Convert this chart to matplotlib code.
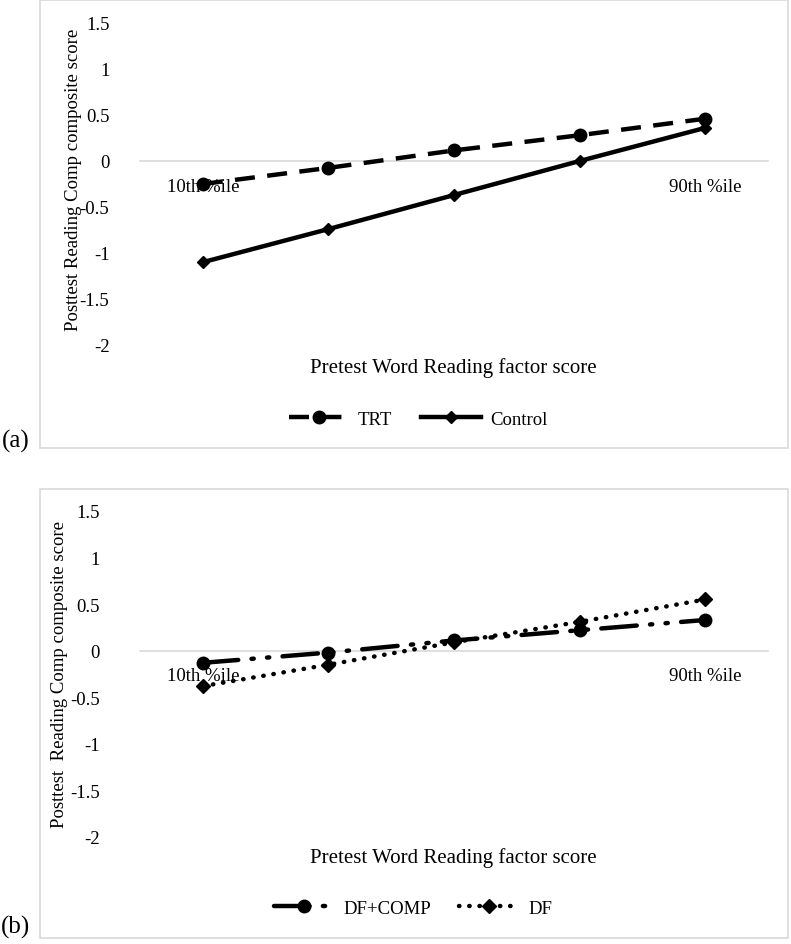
import matplotlib
matplotlib.use("Agg")
import matplotlib.pyplot as plt
from matplotlib.patches import Rectangle

plt.rcParams['font.family'] = ['Liberation Serif', 'DejaVu Serif']

categories = ['10th %ile', '', '', '', '90th %ile']
trt = [-0.25, -0.075, 0.115, 0.28, 0.46]
control = [-1.10, -0.74, -0.37, 0.0, 0.36]
df_comp = [-0.13, -0.02, 0.11, 0.22, 0.33]
df_only = [-0.38, -0.15, 0.09, 0.31, 0.55]
yticks = [1.5, 1, 0.5, 0, -0.5, -1, -1.5, -2]
ytick_labels = ['1.5', '1', '0.5', '0', '-0.5', '-1', '-1.5', '-2']

W, H = 791, 945
fig = plt.figure(figsize=(W / 100, H / 100), dpi=100)

def px_axes(left, top, right, bottom):
    return fig.add_axes([left / W, 1 - bottom / H, (right - left) / W, (bottom - top) / H])

def box(left, top, right, bottom):
    fig.patches.append(Rectangle((left / W, 1 - bottom / H), (right - left) / W, (bottom - top) / H,
                                 transform=fig.transFigure, fill=False, edgecolor='#d9d9d9', lw=1.2))

def style_axes(ax, ypad):
    x = range(len(categories))
    ax.set_xlim(-0.5, len(categories) - 0.5)
    ax.set_ylim(-2, 1.5)
    for s in ['top', 'right', 'left']:
        ax.spines[s].set_visible(False)
    ax.spines['bottom'].set_position(('data', 0))
    ax.spines['bottom'].set_color('#d9d9d9')
    ax.spines['bottom'].set_linewidth(1.2)
    ax.spines['bottom'].set_zorder(0)
    ax.set_xticks(list(x))
    ax.set_xticklabels(categories, fontsize=13.5)
    ax.set_yticks(yticks)
    ax.set_yticklabels(ytick_labels, fontsize=13.5)
    ax.tick_params(axis='x', length=0, pad=12)
    ax.tick_params(axis='y', length=0, pad=ypad)
    ax.patch.set_alpha(0)

# ---- panel (a)
box(40, 1, 788, 449)
ax1 = px_axes(140, 24, 768, 346)
style_axes(ax1, 22)
x = list(range(len(categories)))
l1, = ax1.plot(x, trt, color='black', lw=3.2, linestyle=(0, (4.5, 2.8)), marker='o', markersize=9,
               label='TRT', zorder=3)
l2, = ax1.plot(x, control, color='black', lw=3.2, linestyle='-', marker='D', markersize=6.5,
               label='Control', zorder=3)
fig.text(74 / W, 1 - 180 / H, 'Posttest Reading Comp composite score', rotation=90,
         ha='center', va='center', fontsize=13.5)
fig.text(453 / W, 1 - 368 / H, 'Pretest Word Reading factor score', ha='center', va='center', fontsize=15)
fig.legend(handles=[l1, l2], loc='center', bbox_to_anchor=(418 / W, 1 - 420 / H), ncol=2,
           frameon=False, fontsize=13.5, handlelength=3.2, columnspacing=1.5, handletextpad=0.5)
fig.text(16 / W, 1 - 441 / H, '(a)', ha='center', va='center', fontsize=18)

# ---- panel (b)
box(40, 490, 788, 939)
ax2 = px_axes(140, 512, 768, 838)
style_axes(ax2, 29)
l3, = ax2.plot(x, df_comp, color='black', lw=3.2, linestyle=(0, (8, 3, 0.5, 3, 0.5, 3)), marker='o',
               markersize=9, label='DF+COMP', zorder=3, dash_capstyle='round')
l4, = ax2.plot(x, df_only, color='black', lw=3.2, linestyle=(0, (0.1, 2.2)), marker='D', markersize=7,
               label='DF', zorder=3, dash_capstyle='round')
fig.text(60 / W, 1 - 675 / H, 'Posttest  Reading Comp composite score', rotation=90,
         ha='center', va='center', fontsize=13.5)
fig.text(453 / W, 1 - 858 / H, 'Pretest Word Reading factor score', ha='center', va='center', fontsize=15)
fig.legend(handles=[l3, l4], loc='center', bbox_to_anchor=(413 / W, 1 - 909 / H), ncol=2,
           frameon=False, fontsize=13.5, handlelength=3.2, columnspacing=1.5, handletextpad=0.5)
fig.text(16 / W, 1 - 927 / H, '(b)', ha='center', va='center', fontsize=18)

fig.savefig('out.png', dpi=100)
